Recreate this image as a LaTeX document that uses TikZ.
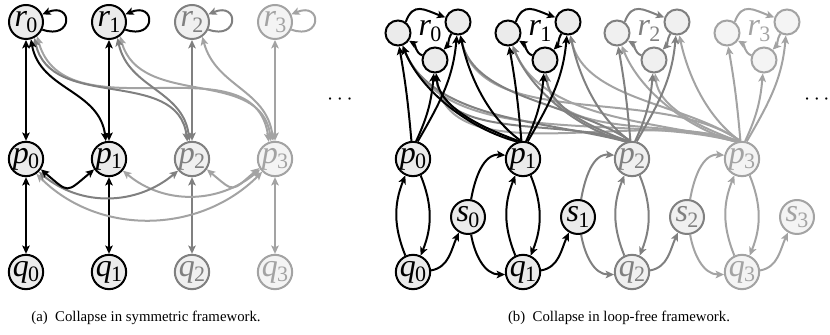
\documentclass[tikz,border=0pt]{standalone}
\usepackage{fontspec}
\setmainfont{Liberation Serif}
\usetikzlibrary{arrows.meta}
\pgfdeclarelayer{bg}
\pgfsetlayers{bg,main}
\definecolor{cA}{gray}{0}
\definecolor{cB}{gray}{0.5}
\definecolor{cC}{gray}{0.64}
\definecolor{fA}{gray}{0.92}
\definecolor{fB}{gray}{0.94}
\definecolor{fC}{gray}{0.955}
\newcommand\lbl[2]{\fontsize{16pt}{16pt}\selectfont\textit{#1}\kern-0.3pt\raisebox{-2.8pt}{\fontsize{11pt}{11pt}\selectfont #2}}
\begin{document}
\begin{tikzpicture}[x=0.5pt,y=0.5pt,
 big/.style={circle, line width=1pt, minimum size=17pt, inner sep=0pt},
 sml/.style={circle, line width=1pt, minimum size=12.5pt, inner sep=0pt},
 kA/.style={draw=cA, fill=fA, text=cA},
 kB/.style={draw=cB, fill=fB, text=cB},
 kC/.style={draw=cC, fill=fC, text=cC},
 ee/.style={line width=1pt, -{Stealth[length=4.2pt,width=3.8pt,inset=1pt]}},
 bb/.style={line width=1pt, {Stealth[length=4.2pt,width=3.8pt,inset=1pt]}-{Stealth[length=4.2pt,width=3.8pt,inset=1pt]}},
 captext/.style={font=\fontsize{7.4pt}{8pt}\selectfont}
]
\useasboundingbox (0,0) rectangle (830,-335);
% ---------- left graph nodes ----------
\foreach \i/\k/\x in {0/kA/26,1/kA/109,2/kB/192,3/kC/275}{
  \node[big,\k] (r\i) at (\x,-22) {\lbl{r}{\i}};
  \node[big,\k] (p\i) at (\x,-159) {\lbl{p}{\i}};
  \node[big,\k] (q\i) at (\x,-272) {\lbl{q}{\i}};
}
\node[inner sep=0pt] (dotsL) at (340,-100) {\fontsize{11pt}{11pt}\selectfont$\cdots$};
% ---------- right graph nodes ----------
\foreach \i/\k/\x in {0/kA/413,1/kA/523,2/kB/632,3/kC/742}{
  \node[big,\k] (P\i) at (\x,-159) {\lbl{p}{\i}};
  \node[big,\k] (S\i) at (\x+55,-217) {\lbl{s}{\i}};
  \node[big,\k] (Q\i) at (\x,-272) {\lbl{q}{\i}};
  \node[sml,\k] (a\i) at (\x-15,-33) {};
  \node[sml,\k] (b\i) at (\x+45,-22) {};
  \node[sml,\k] (c\i) at (\x+22,-60) {};
  \node[\k,draw=none,fill=none,inner sep=0pt] (R\i) at (\x+17,-31) {\lbl{r}{\i}};
}
\node[anchor=east,inner sep=0pt] (dotsR) at (830,-100) {\fontsize{11pt}{11pt}\selectfont$\cdots$};
% ---------- captions ----------
\node[captext] (capA) at (146,-318) {(a)\ \ Collapse in symmetric framework.};
\node[captext] (capB) at (619,-318) {(b)\ \ Collapse in loop-free framework.};
\begin{pgfonlayer}{bg}
% ---------- left edges ----------
\foreach \i/\c in {0/cA,1/cA,2/cB,3/cC}{
  \draw[bb,\c] (r\i) -- (p\i);
  \draw[bb,\c] (p\i) -- (q\i);
  \draw[ee,\c] (r\i.-25) .. controls +(31,-11) and +(31,13) .. (r\i.25);
}
\draw[bb,cC] (r0.-52) to[out=-75,in=97,looseness=1.05] (p3.110);
\draw[bb,cC] (r1.-52) to[out=-75,in=97,looseness=1.05] (p3.103);
\draw[bb,cC] (r2.-55) to[out=-75,in=97,looseness=1.05] (p3.96);
\draw[bb,cB] (r0.-62) to[out=-78,in=97,looseness=1.05] (p2.105);
\draw[bb,cB] (r1.-62) to[out=-78,in=97,looseness=1.05] (p2.98);
\draw[bb,cA] (r0.-74) to[out=-80,in=97,looseness=1.05] (p1.100);
\draw[bb,cC] (p0.-55) to[out=-45,in=-135] (p3.-135);
\draw[bb,cC] (p1.-40) to[out=-40,in=-140] (p3.-145);
\draw[bb,cC] (p2.-35) to[out=-40,in=-140,looseness=1.8] (p3.-150);
\draw[bb,cB] (p0.-45) to[out=-40,in=-140] (p2.-140);
\draw[bb,cA] (p0.-35) to[out=-40,in=-140,looseness=1.8] (p1.-145);
% ---------- right edges ----------
\foreach \i/\c in {0/cA,1/cA,2/cB,3/cC}{
  \draw[ee,\c] (P\i.-65) to[bend left=22] (Q\i.65);
  \draw[ee,\c] (Q\i.115) to[bend left=22] (P\i.-115);
  \draw[ee,\c] (Q\i.5) to[out=10,in=-115] (S\i.-120);
  \draw[ee,\c] (a\i.55) to[out=70,in=160,looseness=1.4] (b\i.160);
  \draw[ee,\c] (b\i.-120) to[out=-120,in=45] (c\i.50);
  \draw[ee,\c] (c\i.160) to[out=160,in=-30] (a\i.-35);
}
\foreach \i/\j/\c in {0/1/cA,1/2/cB,2/3/cC}{
  \draw[ee,\c] (S\i.80) to[out=80,in=175] (P\j.168);
  \draw[ee,\c] (S\i.-80) to[out=-80,in=180] (Q\j.-172);
}
% p_j -> cluster r_i, i<j  (lighter first)
\foreach \j/\c in {3/cC,2/cB,1/cA}{
  \foreach \i in {0,...,3}{
    \ifnum\i<\j
      \draw[ee,\c] (P\j.108) to[out=165,in=-68,looseness=0.85] (a\i.-70);
      \draw[ee,\c] (P\j.102) to[out=160,in=-85,looseness=0.85] (c\i.-85);
      \draw[ee,\c] (P\j.96) to[out=145,in=-78,looseness=0.85] (b\i.-80);
    \fi
  }
}
% own cluster
\foreach \i/\c in {3/cC,2/cB,1/cA,0/cA}{
  \draw[ee,\c] (P\i.95) to[out=95,in=-80] (a\i.-85);
  \draw[ee,\c] (P\i.80) to[out=65,in=-95] (c\i.-95);
  \draw[ee,\c] (P\i.75) to[out=60,in=-95] (b\i.-95);
}
\end{pgfonlayer}
\end{tikzpicture}
\end{document}
